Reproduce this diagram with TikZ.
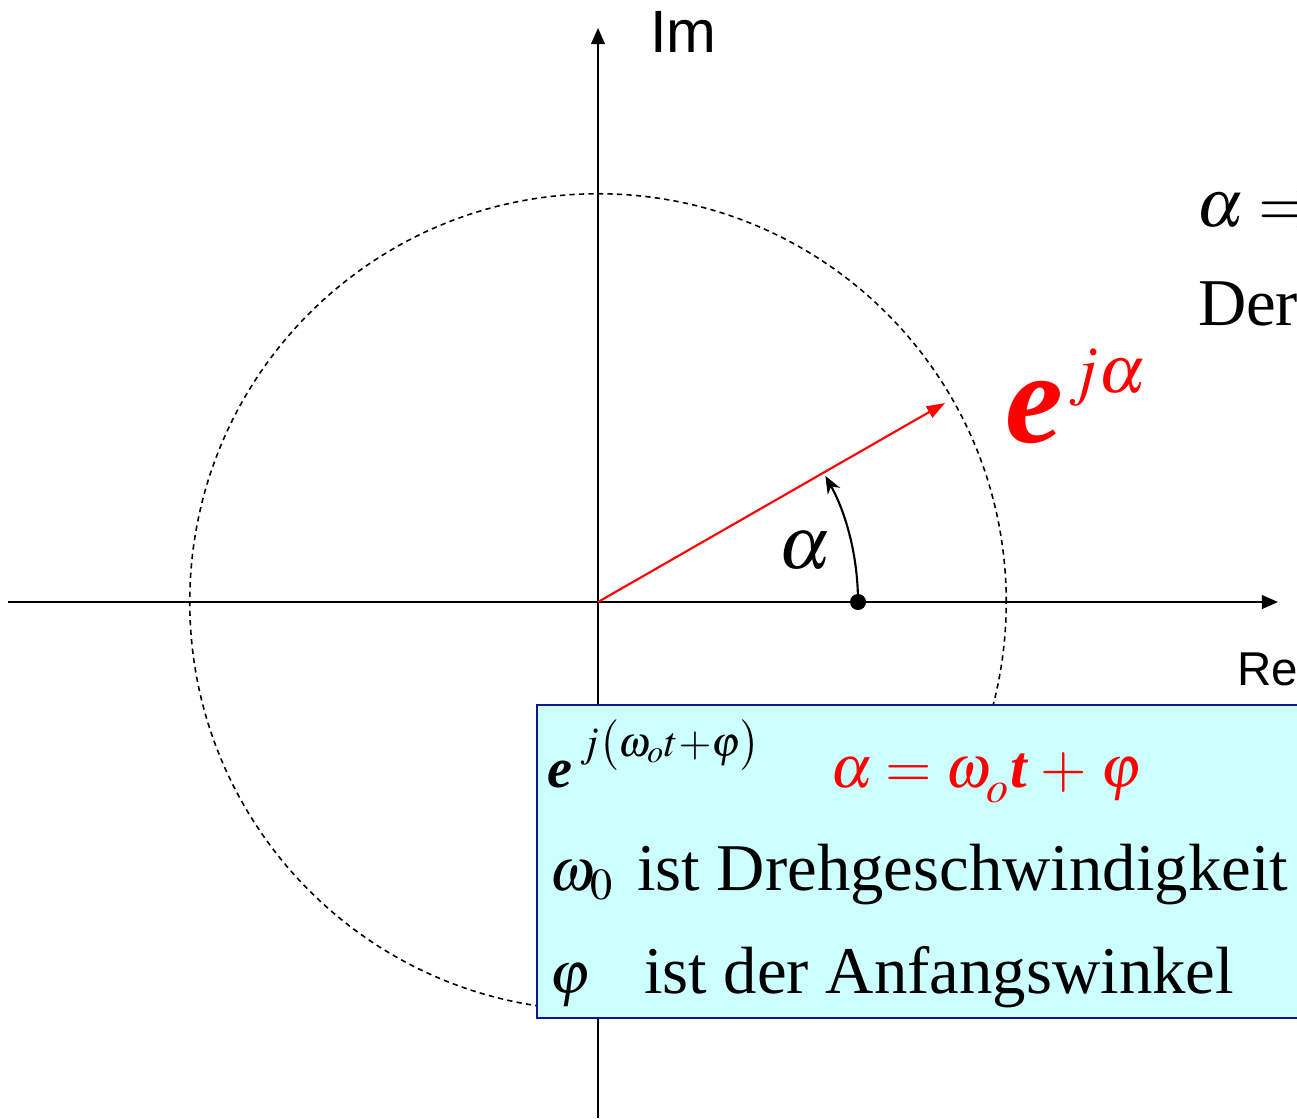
\documentclass[tikz,border=0pt]{standalone}
\usepackage{mathptmx}
\usepackage{fontspec}
\setmainfont{Liberation Serif}
\newfontfamily\axfont{Liberation Sans}
\usetikzlibrary{arrows.meta}
\definecolor{boxfill}{RGB}{204,255,255}
\definecolor{boxline}{RGB}{20,20,150}
\tikzset{
  txt/.style={anchor=base west, inner sep=0pt, outer sep=0pt},
  axis/.style={line width=0.6pt, -{Triangle[length=4.6pt,width=3.9pt]}},
  vec/.style={red, line width=0.6pt, -{Triangle[length=5.2pt,width=3.6pt]}},
  ang/.style={line width=0.6pt, -{Stealth[length=5pt,width=4pt,inset=1.6pt]}},
  circ/.style={line width=0.45pt, dash pattern=on 1.5pt off 1.2pt},
  infobox/.style={fill=boxfill, draw=boxline, line width=0.7pt},
  fs/.style={font=\fontsize{#1}{#1}\selectfont}
}
\begin{document}
\begin{tikzpicture}[x=0.01cm,y=-0.01cm]
\useasboundingbox (0,0) rectangle (1297,1118);
\clip (0,0) rectangle (1297,1118);
% coordinates
\coordinate (O) at (598,602);
\coordinate (xl) at (8,602);
\coordinate (xr) at (1278,602);
\coordinate (yb) at (598,1118);
\coordinate (yt) at (598,28);
\coordinate (vt) at (945,403);
% circle
\draw[circ] (O) circle[radius=4.08cm];
% axes
\draw[axis] (xl) -- (xr);
\draw[axis] (yb) -- (yt);
% vector
\draw[vec] (O) -- (vt);
% angle marker
\node[circle, fill=black, inner sep=0pt, minimum size=0.16cm] (dot) at (858,602) {};
\draw[ang] (dot.center) arc[start angle=0, end angle=29, radius=2.6cm] coordinate (angend);
% labels
\node[txt, fs=17pt] (im) at (650,52) {\axfont Im};
\node[txt, fs=13.5pt] (re) at (1237,685) {\axfont Re};
\node[txt, fs=21pt] (alab) at (778,568) {$\alpha$};
\node[txt, fs=37pt, red] (ee) at (1005,442) {\bfseries\itshape e};
\node[txt, fs=19pt, red] (ja) at (1068,392) {$j\alpha$};
\node[txt, fs=19pt] (impl) at (1196,226) {$\alpha\Rightarrow$};
\node[txt, fs=19pt] (der) at (1198,325) {Der};
% info box
\draw[infobox] (537,705) rectangle (1330,1018);
\node[txt, fs=16pt] (e1) at (547,787) {\bfseries\itshape e};
\node[txt, fs=12pt] (e1s) at (580,756) {$j\bigl(\omega_o t{+}\varphi\bigr)$};
\node[txt, fs=17pt, red] (aeq) at (830,787) {$\alpha\mkern4mu{=}\mkern4mu\omega_{\raisebox{-0.25ex}{$\scriptstyle o$}}\mbox{\bfseries\itshape t}\mkern4mu{+}\mkern4mu\varphi$};
\node[txt, fs=17pt] (w0) at (549,890) {$\omega_0$};
\node[txt, fs=19pt] (l2) at (637,890) {ist Drehgeschwindigkeit};
\node[txt, fs=17pt] (ph) at (549,993) {$\varphi$};
\node[txt, fs=19pt] (l3) at (644,993) {ist der Anfangswinkel};
\end{tikzpicture}
\end{document}
